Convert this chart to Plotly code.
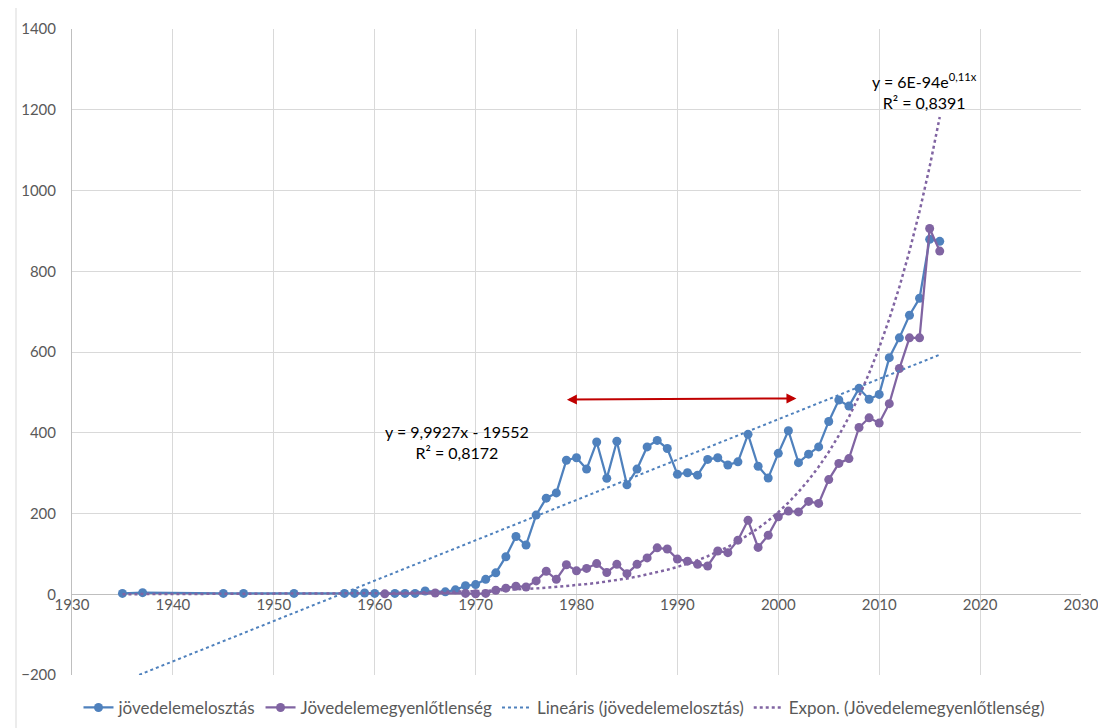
import math
import plotly.graph_objects as go

# ---- data ----
blue_years = [1935, 1937, 1945, 1947, 1952, 1957, 1958, 1959, 1960, 1962, 1963, 1964, 1965, 1967,
              1968, 1969, 1970, 1971, 1972, 1973, 1974, 1975, 1976, 1977, 1978, 1979, 1980,
              1981, 1982, 1983, 1984, 1985, 1986, 1987, 1988, 1989, 1990, 1991, 1992, 1993,
              1994, 1995, 1996, 1997, 1998, 1999, 2000, 2001, 2002, 2003, 2004, 2005, 2006,
              2007, 2008, 2009, 2010, 2011, 2012, 2013, 2014, 2015, 2016]
blue_values = [2, 4, 2, 2, 2, 2, 2, 3, 2, 2, 2, 2, 8, 6,
               11, 21, 24, 37, 53, 93, 143, 122, 196, 238, 251, 332, 338,
               310, 377, 287, 379, 271, 310, 365, 381, 361, 297, 301, 295, 334,
               338, 320, 328, 396, 317, 288, 349, 405, 326, 347, 365, 428, 481,
               466, 510, 483, 495, 586, 635, 691, 733, 879, 874]

purple_years = [1961, 1966, 1969, 1970, 1971, 1972, 1973, 1974, 1975, 1976, 1977, 1978, 1979,
                1980, 1981, 1982, 1983, 1984, 1985, 1986, 1987, 1988, 1989, 1990, 1991, 1992,
                1993, 1994, 1995, 1996, 1997, 1998, 1999, 2000, 2001, 2002, 2003, 2004, 2005,
                2006, 2007, 2008, 2009, 2010, 2011, 2012, 2013, 2014, 2015, 2016]
purple_values = [1, 3, 2, 1, 2, 10, 15, 20, 18, 33, 57, 37, 73,
                 58, 64, 76, 54, 74, 51, 74, 90, 115, 112, 87, 82, 74,
                 70, 107, 103, 134, 183, 116, 146, 192, 206, 204, 230, 225, 284,
                 324, 336, 413, 437, 424, 472, 559, 635, 635, 906, 850]

# trendline equations as printed on the chart
LIN_SLOPE, LIN_INTERCEPT = 9.9927, -19552
EXP_A, EXP_B = 5.8e-94, 0.11   # printed as 6E-94 e^(0,11x)
trend_years = list(range(1935, 2017))

lin_vals = [LIN_SLOPE * x + LIN_INTERCEPT for x in trend_years]
exp_vals = [EXP_A * math.exp(EXP_B * x) for x in trend_years]

series_names = ["jövedelemelosztás", "Jövedelemegyenlőtlenség",
                "Lineáris (jövedelemelosztás)", "Expon. (Jövedelemegyenlőtlenség)"]
lin_text = "y = 9,9927x - 19552<br>R² = 0,8172"
exp_text = "y = 6E-94e<sup>0,11x</sup><br>R² = 0,8391"
arrow_x = [1978.9, 2001.8]
arrow_y = [482, 485]

BLUE = "#4F81BD"
PURPLE = "#8064A2"
FONT = "Lato, Carlito, 'Open Sans', sans-serif"

fig = go.Figure()
fig.add_trace(go.Scatter(x=blue_years, y=blue_values, mode="lines+markers", name=series_names[0],
                         line=dict(color=BLUE, width=2.25), marker=dict(color=BLUE, size=9)))
fig.add_trace(go.Scatter(x=purple_years, y=purple_values, mode="lines+markers", name=series_names[1],
                         line=dict(color=PURPLE, width=2.25), marker=dict(color=PURPLE, size=9)))
fig.add_trace(go.Scatter(x=trend_years, y=lin_vals, mode="lines", name=series_names[2],
                         line=dict(color=BLUE, width=2, dash="dot")))
fig.add_trace(go.Scatter(x=trend_years, y=exp_vals, mode="lines", name=series_names[3],
                         line=dict(color=PURPLE, width=2.5, dash="dot")))

fig.add_annotation(x=1968.2, y=377, xref="x", yref="y", text=lin_text, showarrow=False,
                   font=dict(family=FONT, size=16, color="#000000"), align="center")
fig.add_annotation(x=2014.5, y=1247, xref="x", yref="y", text=exp_text, showarrow=False,
                   font=dict(family=FONT, size=16, color="#000000"), align="center")
fig.add_annotation(x=arrow_x[1], y=arrow_y[1], ax=arrow_x[0], ay=arrow_y[0],
                   xref="x", yref="y", axref="x", ayref="y", text="", showarrow=True,
                   arrowhead=2, startarrowhead=2, arrowside="end+start", arrowsize=1,
                   arrowwidth=2, arrowcolor="#C00000")

# faint outer chart border on the left edge
fig.add_shape(type="line", xref="paper", yref="paper", x0=-0.0555, x1=-0.0555,
              y0=-0.082, y1=1.035, line=dict(color="#D9D9D9", width=1))

# page body has an 8px margin: figure is 1098x720 so plot area lands where the reference has it
fig.update_layout(
    width=1098, height=720,
    margin=dict(l=64, r=25, t=21, b=53, autoexpand=False),
    paper_bgcolor="white", plot_bgcolor="white",
    font=dict(family=FONT, size=15, color="#595959"),
    showlegend=True,
    legend=dict(orientation="h", x=0.4876, xanchor="center", y=-0.051, yanchor="middle",
                font=dict(size=17, color="#595959"), itemwidth=30, tracegroupgap=0),
    xaxis=dict(range=[1930, 2030], dtick=10, tick0=1930, showgrid=True, gridcolor="#D9D9D9",
               gridwidth=1, zeroline=False, showline=False, anchor="free", position=0.125,
               ticks="", automargin=False, tickfont=dict(size=15, color="#595959")),
    yaxis=dict(range=[-200, 1400], dtick=200, showgrid=True, gridcolor="#D9D9D9", gridwidth=1,
               zeroline=True, zerolinecolor="#BFBFBF", zerolinewidth=1,
               showline=True, linecolor="#BFBFBF", linewidth=1, ticks="", automargin=False,
               ticklabelstandoff=12, tickfont=dict(size=15, color="#595959")),
)

fig.write_html("out.html")
